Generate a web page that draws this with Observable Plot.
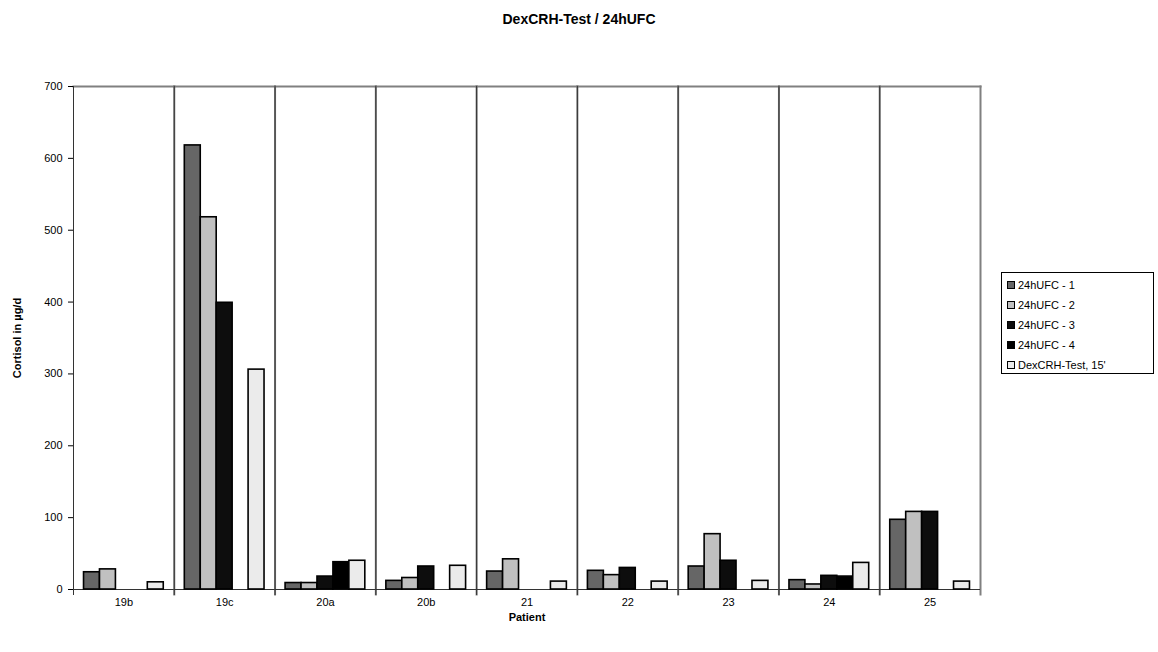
<!DOCTYPE html>
<html>
<head>
<meta charset="utf-8">
<script src="https://cdn.jsdelivr.net/npm/d3@7"></script>
<script src="https://cdn.jsdelivr.net/npm/@observablehq/plot@0.6"></script>
<style>
  body { margin: 0; background: #fff; font-family: Arial, "Liberation Sans", sans-serif; }
  #wrap { position: relative; width: 1158px; height: 652px; }
  #title { position: absolute; left: 0; top: 11px; width: 1158px; text-align: center;
           font-weight: bold; font-size: 14px; line-height: 16px; color: #000; }
  #legend { position: absolute; left: 1001px; top: 272px; width: 153px; height: 102px;
            border: 1px solid #000; box-sizing: border-box; padding-top: 2px; }
  .item { height: 20px; display: flex; align-items: center; font-size: 11px; color: #000; }
  .sw { width: 6px; height: 6px; border: 1.5px solid #000; margin: 0 3px 0 5px; }
  svg g[aria-label$="axis label"] text { font-weight: bold; }
</style>
</head>
<body>
<div id="wrap">
  <div id="title"></div>
  <div id="chart"></div>
  <div id="legend"></div>
</div>
<script>
const chartTitle = "DexCRH-Test / 24hUFC";
const patients = ["19b", "19c", "20a", "20b", "21", "22", "23", "24", "25"];
const series = ["24hUFC - 1", "24hUFC - 2", "24hUFC - 3", "24hUFC - 4", "DexCRH-Test, 15'"];
const seriesColors = ["#666666", "#c0c0c0", "#0d0d0d", "#000000", "#ebebeb"];

// Cortisol in µg/d per patient (null = not measured)
const ufc1 = [24, 618, 9, 12, 25, 26, 32, 13, 97];
const ufc2 = [28, 518, 9, 16, 42, 20, 77, 7, 108];
const ufc3 = [null, 399, 18, 32, null, 30, 40, 19, 108];
const ufc4 = [null, null, 38, null, null, null, null, 18, null];
const dex15 = [10, 306, 40, 33, 11, 11, 12, 37, 11];
const yTicks = [0, 100, 200, 300, 400, 500, 600, 700];

const columns = [ufc1, ufc2, ufc3, ufc4, dex15];
const rows = [];
patients.forEach((p, i) => {
  columns.forEach((col, j) => {
    if (col[i] != null) rows.push({patient: p, series: series[j], value: col[i]});
  });
});

document.getElementById("title").textContent = chartTitle;

const chart = Plot.plot({
  width: 1158,
  height: 652,
  marginLeft: 73,
  marginRight: 178,
  marginTop: 86,
  marginBottom: 63,
  style: {fontFamily: "Arial, 'Liberation Sans', sans-serif", fontSize: "11px", color: "#000", background: "#fff"},
  fx: {domain: patients, padding: 0, round: false},
  x: {domain: series, paddingInner: 0, paddingOuter: 0.66, round: false, axis: null},
  y: {domain: [0, 700]},
  color: {domain: series, range: seriesColors},
  marks: [
    Plot.frame({anchor: "top", stroke: "#808080", strokeWidth: 2}),
    Plot.frame({anchor: "right", stroke: "#808080", strokeWidth: 2, insetBottom: -5}),
    Plot.frame({anchor: "left", stroke: "#333", insetBottom: -5}),
    Plot.ruleY([0], {stroke: "#333"}),
    Plot.barY(rows, {fx: "patient", x: "series", y: "value", fill: "series", stroke: "#000", strokeWidth: 1.6}),
    Plot.axisY({ticks: yTicks, tickSize: 5, tickPadding: 6, label: "Cortisol in µg/d",
                labelAnchor: "center", labelOffset: 60, labelArrow: "none"}),
    Plot.axisFx({anchor: "bottom", tickSize: 0, tickPadding: 9, label: "Patient", labelAnchor: "center",
                 labelOffset: 31, labelArrow: "none"})
  ]
});
document.getElementById("chart").appendChild(chart);

const legend = document.getElementById("legend");
series.forEach((s, i) => {
  const item = document.createElement("div");
  item.className = "item";
  const sw = document.createElement("span");
  sw.className = "sw";
  sw.style.background = seriesColors[i];
  const t = document.createElement("span");
  t.textContent = s;
  item.appendChild(sw);
  item.appendChild(t);
  legend.appendChild(item);
});
</script>
</body>
</html>
